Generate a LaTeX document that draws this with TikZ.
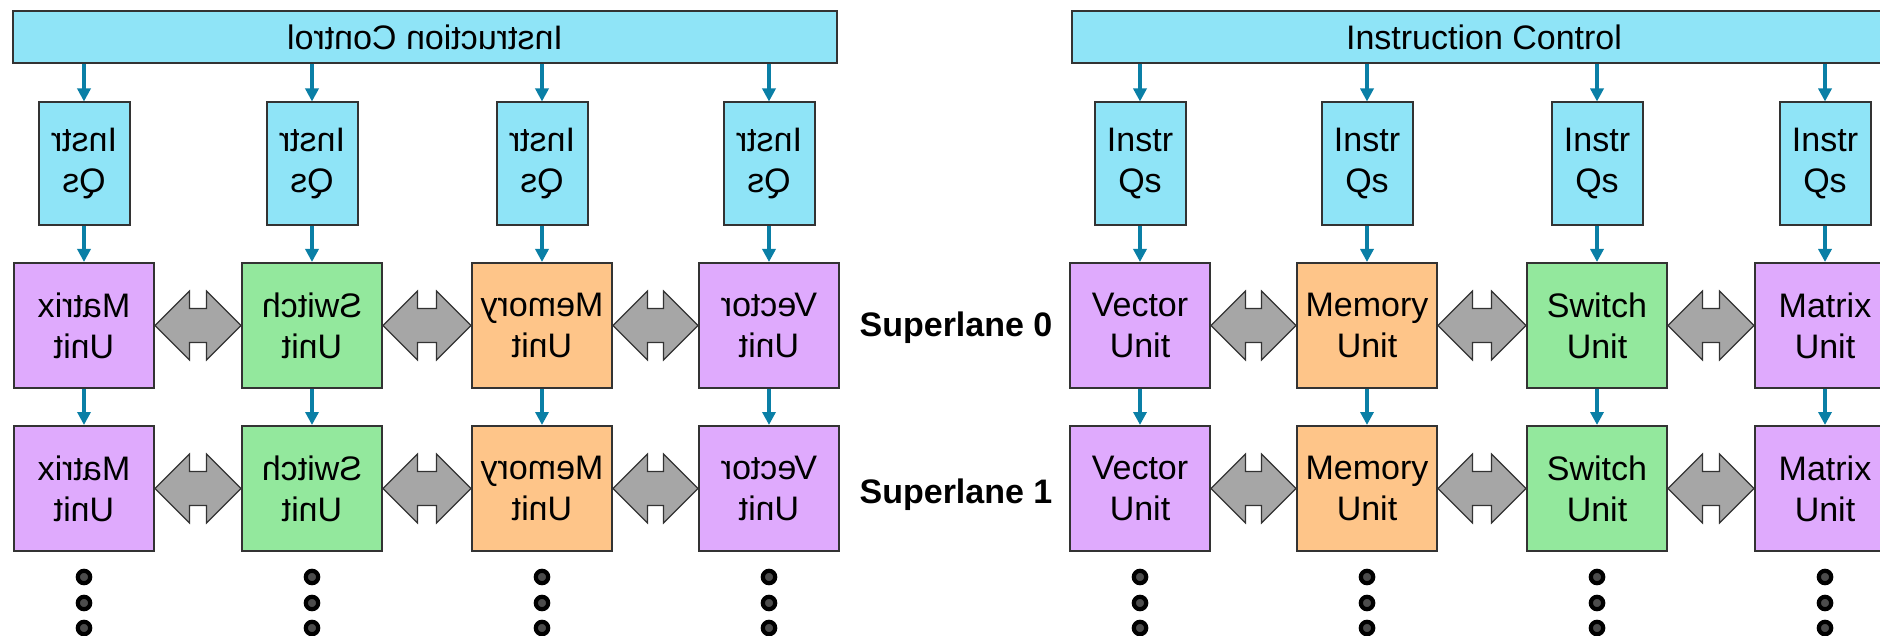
\documentclass[tikz,border=0pt]{standalone}
\usepackage{graphicx}
\usepackage{fontspec}
\setmainfont{Liberation Sans}
\usetikzlibrary{arrows.meta,calc}
\definecolor{qcyan}{HTML}{8FE4F7}
\definecolor{upurple}{HTML}{DFAAFD}
\definecolor{uorange}{HTML}{FEC589}
\definecolor{ugreen}{HTML}{93E89D}
\definecolor{flowblue}{HTML}{0A7FA6}
\definecolor{bigray}{HTML}{A6A6A6}
\definecolor{boxline}{HTML}{333333}
\newcommand{\mirr}[1]{\reflectbox{#1}}
% grey two-way arrow between two unit boxes (left tip, right tip)
\newcommand{\biarrow}[2]{%
  \draw[bi] (#1) -- ++(34.5,-34.5) -- ++(0,17.5) -- ($(#2)+(-34.5,-17)$) -- ++(0,-17.5)
    -- (#2) -- ++(-34.5,34.5) -- ++(0,-17.5) -- ($(#1)+(34.5,17)$) -- ++(0,17.5) -- cycle;}
\begin{document}
\begin{tikzpicture}[x=0.5pt,y=-0.5pt,font=\fontsize{17}{20.5}\selectfont,
  ctrl/.style={draw=boxline,line width=1pt,fill=qcyan,minimum width=412pt,minimum height=26pt,inner sep=0pt},
  qbox/.style={draw=boxline,line width=1pt,fill=qcyan,minimum width=45.5pt,minimum height=61.5pt,align=center,inner sep=0pt},
  unit/.style={draw=boxline,line width=1pt,minimum width=70pt,minimum height=62.5pt,align=center,inner sep=0pt},
  vec/.style={unit,fill=upurple},
  mat/.style={unit,fill=upurple},
  mem/.style={unit,fill=uorange},
  swi/.style={unit,fill=ugreen},
  flow/.style={draw=flowblue,line width=2pt,-{Triangle[length=6.5pt,width=6.5pt]}},
  bi/.style={draw=boxline,line width=0.6pt,fill=bigray},
  lane/.style={font=\fontsize{17}{20.5}\selectfont\bfseries,anchor=base}]
\useasboundingbox (0,0) rectangle (1880,636);
% mirrored half
\node[ctrl](lbar) at (425,37) {\mirr{Instruction Control}};
\node[qbox](lq1) at (84,164) {\mirr{Instr}\\\mirr{Qs}};
\node[qbox](lq2) at (312,164) {\mirr{Instr}\\\mirr{Qs}};
\node[qbox](lq3) at (542,164) {\mirr{Instr}\\\mirr{Qs}};
\node[qbox](lq4) at (769,164) {\mirr{Instr}\\\mirr{Qs}};
\node[mat](la1) at (84,325.5) {\mirr{Matrix}\\\mirr{Unit}};
\node[swi](la2) at (312,325.5) {\mirr{Switch}\\\mirr{Unit}};
\node[mem](la3) at (542,325.5) {\mirr{Memory}\\\mirr{Unit}};
\node[vec](la4) at (769,325.5) {\mirr{Vector}\\\mirr{Unit}};
\node[mat](lb1) at (84,488.5) {\mirr{Matrix}\\\mirr{Unit}};
\node[swi](lb2) at (312,488.5) {\mirr{Switch}\\\mirr{Unit}};
\node[mem](lb3) at (542,488.5) {\mirr{Memory}\\\mirr{Unit}};
\node[vec](lb4) at (769,488.5) {\mirr{Vector}\\\mirr{Unit}};
% normal half
\node[ctrl](rbar) at (1484,37) {Instruction Control};
\node[qbox](rq1) at (1140,164) {Instr\\Qs};
\node[qbox](rq2) at (1367,164) {Instr\\Qs};
\node[qbox](rq3) at (1597,164) {Instr\\Qs};
\node[qbox](rq4) at (1825,164) {Instr\\Qs};
\node[vec](ra1) at (1140,325.5) {Vector\\Unit};
\node[mem](ra2) at (1367,325.5) {Memory\\Unit};
\node[swi](ra3) at (1597,325.5) {Switch\\Unit};
\node[mat](ra4) at (1825,325.5) {Matrix\\Unit};
\node[vec](rb1) at (1140,488.5) {Vector\\Unit};
\node[mem](rb2) at (1367,488.5) {Memory\\Unit};
\node[swi](rb3) at (1597,488.5) {Switch\\Unit};
\node[mat](rb4) at (1825,488.5) {Matrix\\Unit};
\node[lane](sl0) at (956,336) {Superlane 0};
\node[lane](sl1) at (956,503) {Superlane 1};
\path
  (lbar.south -| lq1) edge[flow] (lq1)
  (lbar.south -| lq2) edge[flow] (lq2)
  (lbar.south -| lq3) edge[flow] (lq3)
  (lbar.south -| lq4) edge[flow] (lq4)
  (rbar.south -| rq1) edge[flow] (rq1)
  (rbar.south -| rq2) edge[flow] (rq2)
  (rbar.south -| rq3) edge[flow] (rq3)
  (rbar.south -| rq4) edge[flow] (rq4)
  (lq1) edge[flow] (la1)  (la1) edge[flow] (lb1)
  (lq2) edge[flow] (la2)  (la2) edge[flow] (lb2)
  (lq3) edge[flow] (la3)  (la3) edge[flow] (lb3)
  (lq4) edge[flow] (la4)  (la4) edge[flow] (lb4)
  (rq1) edge[flow] (ra1)  (ra1) edge[flow] (rb1)
  (rq2) edge[flow] (ra2)  (ra2) edge[flow] (rb2)
  (rq3) edge[flow] (ra3)  (ra3) edge[flow] (rb3)
  (rq4) edge[flow] (ra4)  (ra4) edge[flow] (rb4)
  ;
\biarrow{la1.east}{la2.west} \biarrow{la2.east}{la3.west} \biarrow{la3.east}{la4.west}
\biarrow{lb1.east}{lb2.west} \biarrow{lb2.east}{lb3.west} \biarrow{lb3.east}{lb4.west}
\biarrow{ra1.east}{ra2.west} \biarrow{ra2.east}{ra3.west} \biarrow{ra3.east}{ra4.west}
\biarrow{rb1.east}{rb2.west} \biarrow{rb2.east}{rb3.west} \biarrow{rb3.east}{rb4.west}
% more superlanes below
\foreach \x in {84,312,542,769,1140,1367,1597,1825}
  \foreach \y in {577,603,628}
    \filldraw[fill=black!70,draw=black,line width=2.1pt] (\x,\y) circle (3.1pt);
\end{tikzpicture}
\end{document}
